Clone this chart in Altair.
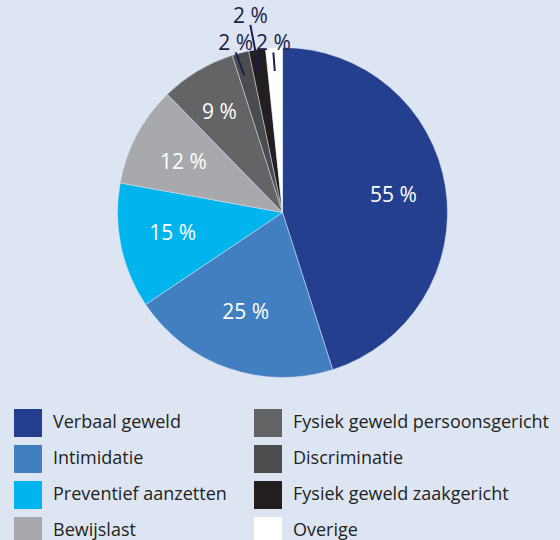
import altair as alt
import pandas as pd

categories = ["Verbaal geweld", "Intimidatie", "Preventief aanzetten", "Bewijslast",
              "Fysiek geweld persoonsgericht", "Discriminatie",
              "Fysiek geweld zaakgericht", "Overige"]
values = [55, 25, 15, 12, 9, 2, 2, 2]
colors = ["#253f8f", "#427fc1", "#00b4ed", "#a7a9ac",
          "#636466", "#4b4c4e", "#231f20", "#ffffff"]
labels_txt = [f"{v} %" for v in values]

df = pd.DataFrame({"cat": categories, "value": values,
                   "idx": list(range(len(categories))), "label": labels_txt})

CX, CY, R = 282.5, 212.5, 165
RX, RY = 170, 161  # label placement follows the slightly oval original
BG = "#dde5f2"
FONT = "Open Sans"

base = alt.Chart(df)

pie = base.mark_arc(outerRadius=R, stroke=BG, strokeWidth=0.5).encode(
    theta=alt.Theta("value:Q", stack=True),
    order=alt.Order("idx:Q"),
    color=alt.Color(
        "cat:N",
        scale=alt.Scale(domain=categories, range=colors),
        legend=alt.Legend(
            title=None, orient="none", legendX=14, legendY=409, columns=2,
            symbolType="square", symbolSize=784, symbolStrokeWidth=0,
            symbolOpacity=1, labelFont=FONT, labelFontSize=18,
            labelColor="#231f20", labelOffset=11, labelLimit=400,
            rowPadding=8, columnPadding=27, padding=0,
        ),
    ),
    x=alt.value(CX),
    y=alt.value(CY),
)

calc = base.transform_joinaggregate(total="sum(value)").transform_window(
    cum="sum(value)", sort=[alt.SortField("idx")], frame=[None, 0]
).transform_calculate(
    mid="(datum.cum - datum.value / 2) / datum.total * 2 * PI",
    k="datum.value < 5 ? (datum.idx == 6 ? 1.23 : (datum.idx == 7 ? 1.045 : 1.08)) : (datum.value < 10 ? 0.72 : 0.66)",
    lx=f"{CX} + datum.k * {RX} * sin(datum.mid)",
    ly=f"{CY} - datum.k * {RY} * cos(datum.mid)",
    ax=f"{CX} + 0.88 * {RX} * sin(datum.mid)",
    ay=f"{CY} - 0.88 * {RY} * cos(datum.mid)",
    bx="datum.lx",
    by="datum.ly + 8",
)

text = calc.mark_text(font=FONT, fontSize=21, baseline="middle", align="center").encode(
    x=alt.X("lx:Q", scale=None, axis=None),
    y=alt.Y("ly:Q", scale=None, axis=None),
    text="label:N",
    color=alt.condition("datum.value < 5", alt.value("#1c1d4a"), alt.value("#ffffff")),
)

leaders = calc.transform_filter("datum.value < 5").mark_rule(
    color="#1c1d4a", strokeWidth=2
).encode(
    x=alt.X("ax:Q", scale=None, axis=None),
    y=alt.Y("ay:Q", scale=None, axis=None),
    x2="bx:Q",
    y2="by:Q",
)

chart = alt.layer(pie, leaders, text).properties(
    width=560, height=540, autosize=alt.AutoSizeParams(type="none"),
    padding=0, background=BG,
).configure_view(stroke=None)

chart.save("out.html", embed_options={"renderer": "svg", "actions": False})
